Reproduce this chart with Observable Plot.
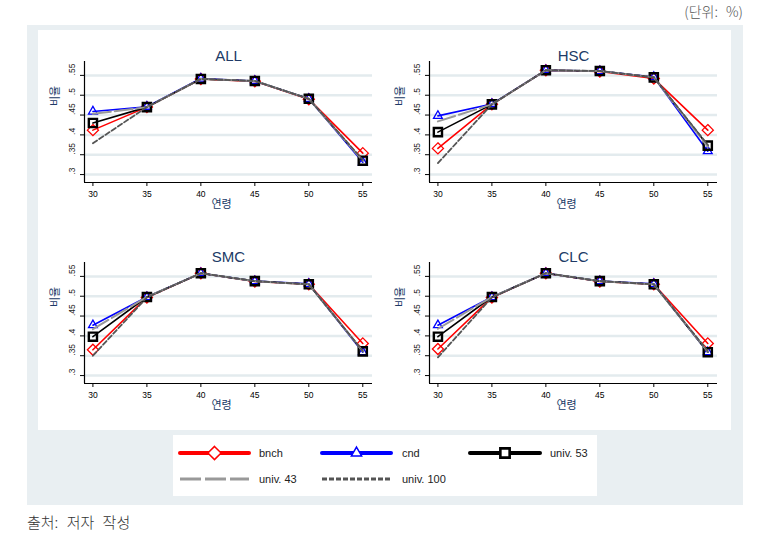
<!DOCTYPE html>
<html><head><meta charset="utf-8">
<script src="https://cdn.jsdelivr.net/npm/d3@7"></script>
<script src="https://cdn.jsdelivr.net/npm/@observablehq/plot@0.6"></script>
<style>
body{margin:0;background:#fff;font-family:"Liberation Sans",Arial,"Noto Sans CJK KR",sans-serif;}
#root{position:relative;width:759px;height:544px;overflow:hidden;}
.abs{position:absolute;}
</style></head>
<body><div id="root"></div>
<script>
// ---- data ----
const ages = [30, 35, 40, 45, 50, 55];
const panelNames = ["ALL", "HSC", "SMC", "CLC"];
const seriesNames = ["bnch", "cnd", "univ. 53", "univ. 43", "univ. 100"];
const yTicks = [0.3, 0.35, 0.4, 0.45, 0.5, 0.55];
const yTickLabels = [".3", ".35", ".4", ".45", ".5", ".55"];

const allBnch = [0.412, 0.470, 0.541, 0.535, 0.490, 0.354];
const allCnd  = [0.459, 0.471, 0.542, 0.536, 0.491, 0.331];
const allU53  = [0.430, 0.470, 0.541, 0.536, 0.491, 0.335];
const allU43  = [0.453, 0.470, 0.541, 0.536, 0.491, 0.335];
const allU100 = [0.379, 0.470, 0.541, 0.536, 0.491, 0.337];

const hscBnch = [0.366, 0.477, 0.563, 0.560, 0.542, 0.412];
const hscCnd  = [0.448, 0.478, 0.563, 0.561, 0.546, 0.359];
const hscU53  = [0.407, 0.477, 0.563, 0.561, 0.545, 0.373];
const hscU43  = [0.434, 0.477, 0.563, 0.561, 0.545, 0.370];
const hscU100 = [0.329, 0.477, 0.563, 0.561, 0.545, 0.375];

const smcBnch = [0.365, 0.497, 0.558, 0.537, 0.530, 0.381];
const smcCnd  = [0.427, 0.498, 0.558, 0.538, 0.531, 0.359];
const smcU53  = [0.398, 0.498, 0.558, 0.538, 0.530, 0.361];
const smcU43  = [0.417, 0.498, 0.558, 0.538, 0.530, 0.361];
const smcU100 = [0.350, 0.497, 0.558, 0.538, 0.530, 0.362];

const clcBnch = [0.367, 0.497, 0.558, 0.537, 0.530, 0.381];
const clcCnd  = [0.427, 0.498, 0.558, 0.538, 0.531, 0.359];
const clcU53  = [0.398, 0.498, 0.558, 0.538, 0.530, 0.359];
const clcU43  = [0.418, 0.498, 0.558, 0.538, 0.530, 0.360];
const clcU100 = [0.346, 0.497, 0.558, 0.538, 0.530, 0.362];

const panelValues = [
  [allBnch, allCnd, allU53, allU43, allU100],
  [hscBnch, hscCnd, hscU53, hscU43, hscU100],
  [smcBnch, smcCnd, smcU53, smcU43, smcU100],
  [clcBnch, clcCnd, clcU53, clcU43, clcU100]
];

// ---- styles ----
const styles = [
  {color: "#ff0000", width: 1.6, dash: null, symbol: "diamond2", r: 5, sw: 1.3},
  {color: "#0000ff", width: 1.6, dash: null, symbol: "triangle2", r: 4.2, sw: 1.3},
  {color: "#000000", width: 1.6, dash: null, symbol: "square2", r: 5.2, sw: 2.4},
  {color: "#999999", width: 2, dash: "18,4", symbol: null},
  {color: "#555555", width: 1.8, dash: "5,2.5", symbol: null}
];

const root = document.getElementById("root");
function addDiv(css, html) {
  const d = document.createElement("div");
  d.className = "abs";
  d.style.cssText = css;
  if (html) d.innerHTML = html;
  root.appendChild(d);
  return d;
}
addDiv("left:27px;top:25px;width:716px;height:480px;background:#e9eff2;");
addDiv("left:38px;top:30px;width:693px;height:400px;background:#ffffff;");
addDiv("left:173px;top:435px;width:424px;height:61px;background:#ffffff;");
addDiv("right:16px;top:1px;font-size:14px;color:#555;word-spacing:5px;font-family:'Noto Sans CJK KR',sans-serif;font-weight:300;", "(단위: %)");
addDiv("left:27px;top:511px;font-size:15px;color:#333;word-spacing:5px;font-family:'Noto Sans CJK KR',sans-serif;font-weight:300;", "출처: 저자 작성");

const positions = [[40, 30], [385, 30], [40, 231], [385, 231]];
const xDom = [29.22, 55.9];
const yDom = [0.28, 0.585];
const navy = "#203a66";

panelNames.forEach((name, pi) => {
  const marks = [
    Plot.ruleY(yTicks, {stroke: "#e3ebee", strokeWidth: 2.5}),
    Plot.ruleX([xDom[0]], {stroke: "#000", strokeWidth: 1.2}),
    Plot.ruleY([yDom[0]], {stroke: "#000", strokeWidth: 1.2}),
    Plot.axisX({ticks: ages, tickSize: 4, tickPadding: 4, fontSize: 8.5, label: null, stroke: "#000"}),
    Plot.axisY({ticks: yTicks, tickSize: 4, tickFormat: () => "", label: null, stroke: "#000"}),
    Plot.text(yTicks, {y: d => d, text: (d, i) => yTickLabels[i], frameAnchor: "left", dx: -12, rotate: -90, fontSize: 8.5, fill: "#222"}),
    Plot.text([name], {frameAnchor: "top", dy: -11, fontSize: 15, fontWeight: 400, fill: navy}),
    Plot.text(["연령"], {frameAnchor: "bottom", dy: 25, dx: -7, fontSize: 11, fill: navy, fontFamily: "Noto Sans CJK KR"}),
    Plot.text(["비율"], {frameAnchor: "left", dx: -29, dy: -16, rotate: -90, fontSize: 11, fill: navy, fontFamily: "Noto Sans CJK KR"})
  ];
  panelValues[pi].forEach((vals, si) => {
    const st = styles[si];
    const data = ages.map((a, i) => ({age: a, v: vals[i]}));
    marks.push(Plot.line(data, {x: "age", y: "v", stroke: st.color, strokeWidth: st.width, strokeDasharray: st.dash}));
    if (st.symbol) {
      marks.push(Plot.dot(data, {x: "age", y: "v", symbol: () => st.symbol, stroke: st.color, strokeWidth: st.sw, r: st.r, fill: "none"}));
    }
  });
  const chart = Plot.plot({
    width: 340, height: 200,
    marginLeft: 44, marginRight: 8, marginTop: 31, marginBottom: 48,
    x: {domain: xDom},
    y: {domain: yDom},
    symbol: {type: "identity"},
    style: {background: "transparent", fontFamily: "'Liberation Sans',Arial,sans-serif", overflow: "visible"},
    marks
  });
  const wrap = addDiv(`left:${positions[pi][0]}px;top:${positions[pi][1]}px;`);
  wrap.appendChild(chart);
});

// ---- legend ----
const leg = d3.select(root).append("svg")
  .attr("class", "abs")
  .style("left", "173px").style("top", "435px")
  .attr("width", 424).attr("height", 61);
const legItems = [
  {row: 0, x0: 7, x1: 76, lx: 86},
  {row: 0, x0: 149, x1: 218, lx: 229},
  {row: 0, x0: 297, x1: 367, lx: 377},
  {row: 1, x0: 7, x1: 76, lx: 86},
  {row: 1, x0: 149, x1: 218, lx: 229}
];
const legWidths = [4, 4, 4, 3.2, 3];
const legDash = [null, null, null, "21,4", "5,2"];
const legSym = [d3.symbolDiamond2, d3.symbolTriangle2, d3.symbolSquare2];
const legSymSize = [110, 75, 110];
legItems.forEach((it, i) => {
  const y = it.row === 0 ? 18 : 44;
  const st = styles[i];
  leg.append("line").attr("x1", it.x0).attr("x2", it.x1).attr("y1", y).attr("y2", y)
    .attr("stroke", st.color).attr("stroke-width", legWidths[i])
    .attr("stroke-linecap", legDash[i] ? "butt" : "round")
    .attr("stroke-dasharray", legDash[i]);
  if (i < 3) {
    leg.append("path").attr("d", d3.symbol(legSym[i], legSymSize[i])())
      .attr("transform", `translate(${(it.x0 + it.x1) / 2},${y})`)
      .attr("fill", "#fff").attr("stroke", st.color).attr("stroke-width", i === 2 ? 2.6 : 1.5);
  }
  leg.append("text").attr("x", it.lx).attr("y", y).attr("dy", "0.35em")
    .attr("font-size", 11).attr("fill", "#222").text(seriesNames[i]);
});
</script>
</body></html>
